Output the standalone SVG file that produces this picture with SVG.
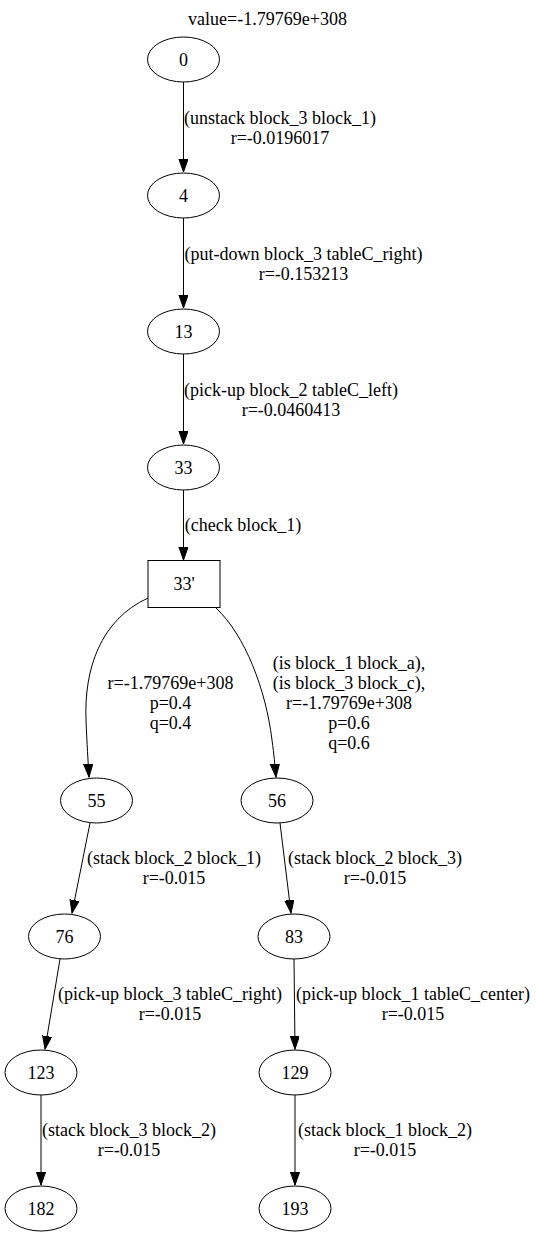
<svg xmlns="http://www.w3.org/2000/svg" width="536" height="1239" viewBox="0 0 536 1239">
<style>
text{font-family:"Liberation Serif","Times New Roman",serif;font-size:18px;fill:#000;text-anchor:middle}
.n{fill:none;stroke:#000;stroke-width:1}
.e{fill:none;stroke:#000;stroke-width:1;marker-end:url(#ah)}
</style>
<defs>
<marker id="ah" markerUnits="userSpaceOnUse" markerWidth="15" markerHeight="11" refX="13" refY="4.6" orient="auto">
<path d="M0,0 L13,4.6 L0,9.2 z" fill="#000" stroke="#000" stroke-width="1"/>
</marker>
</defs>
<rect width="536" height="1239" fill="#fff"/>
<text x="267.5" y="25">value=-1.79769e+308</text>
<g id="connectors">
<path class="e" d="M183.5,82 L183.5,172"/>
<path class="e" d="M183.5,218 L183.5,308"/>
<path class="e" d="M183.5,354 L183.5,444"/>
<path class="e" d="M183.5,490 L183.5,560"/>
<path class="e" d="M148,598 C100,620 84,670 86,720 C87,745 88,760 89,777"/>
<path class="e" d="M216,608 C245,635 266,690 272,740 C274,755 275,765 276,777"/>
<path class="e" d="M90,823 L72,913"/>
<path class="e" d="M280,823 L291,913"/>
<path class="e" d="M60,959 L45,1049"/>
<path class="e" d="M294,959 L295,1049"/>
<path class="e" d="M41,1095 L41,1185"/>
<path class="e" d="M295,1095 L295,1185"/>
<text x="280" y="124">(unstack block_3 block_1)</text>
<text x="280" y="144">r=-0.0196017</text>
<text x="303.5" y="260">(put-down block_3 tableC_right)</text>
<text x="303.5" y="280">r=-0.153213</text>
<text x="291" y="396">(pick-up block_2 tableC_left)</text>
<text x="291" y="416">r=-0.0460413</text>
<text x="243" y="531">(check block_1)</text>
<text x="170.5" y="689">r=-1.79769e+308</text>
<text x="170.5" y="709">p=0.4</text>
<text x="170.5" y="729">q=0.4</text>
<text x="349" y="669">(is block_1 block_a),</text>
<text x="349" y="689">(is block_3 block_c),</text>
<text x="349" y="709">r=-1.79769e+308</text>
<text x="349" y="729">p=0.6</text>
<text x="349" y="749">q=0.6</text>
<text x="174" y="864">(stack block_2 block_1)</text>
<text x="174" y="884">r=-0.015</text>
<text x="375" y="864">(stack block_2 block_3)</text>
<text x="375" y="884">r=-0.015</text>
<text x="170" y="1000">(pick-up block_3 tableC_right)</text>
<text x="170" y="1020">r=-0.015</text>
<text x="413" y="1000">(pick-up block_1 tableC_center)</text>
<text x="413" y="1020">r=-0.015</text>
<text x="129" y="1136">(stack block_3 block_2)</text>
<text x="129" y="1156">r=-0.015</text>
<text x="385" y="1136">(stack block_1 block_2)</text>
<text x="385" y="1156">r=-0.015</text>
</g>
<g id="n0"><ellipse class="n" cx="183.5" cy="59.5" rx="36" ry="22.5"/><text x="183.5" y="65.5">0</text></g>
<g id="n4"><ellipse class="n" cx="183.5" cy="195.5" rx="36" ry="22.5"/><text x="183.5" y="201.5">4</text></g>
<g id="n13"><ellipse class="n" cx="183.5" cy="331.5" rx="36" ry="22.5"/><text x="183.5" y="337.5">13</text></g>
<g id="n33"><ellipse class="n" cx="183.5" cy="467.5" rx="36" ry="22.5"/><text x="183.5" y="473.5">33</text></g>
<g id="n33p"><rect class="n" x="148" y="560.5" width="72" height="47"/><text x="184" y="590">33'</text></g>
<g id="n55"><ellipse class="n" cx="96.5" cy="800.5" rx="36" ry="22.5"/><text x="96.5" y="806.5">55</text></g>
<g id="n56"><ellipse class="n" cx="277" cy="800.5" rx="36" ry="22.5"/><text x="277" y="806.5">56</text></g>
<g id="n76"><ellipse class="n" cx="64.5" cy="936.5" rx="36" ry="22.5"/><text x="64.5" y="942.5">76</text></g>
<g id="n83"><ellipse class="n" cx="294" cy="936.5" rx="36" ry="22.5"/><text x="294" y="942.5">83</text></g>
<g id="n123"><ellipse class="n" cx="41" cy="1072.5" rx="36" ry="22.5"/><text x="41" y="1078.5">123</text></g>
<g id="n129"><ellipse class="n" cx="295" cy="1072.5" rx="36" ry="22.5"/><text x="295" y="1078.5">129</text></g>
<g id="n182"><ellipse class="n" cx="41" cy="1208.5" rx="36" ry="22.5"/><text x="41" y="1214.5">182</text></g>
<g id="n193"><ellipse class="n" cx="295" cy="1208.5" rx="36" ry="22.5"/><text x="295" y="1214.5">193</text></g>
</svg>
